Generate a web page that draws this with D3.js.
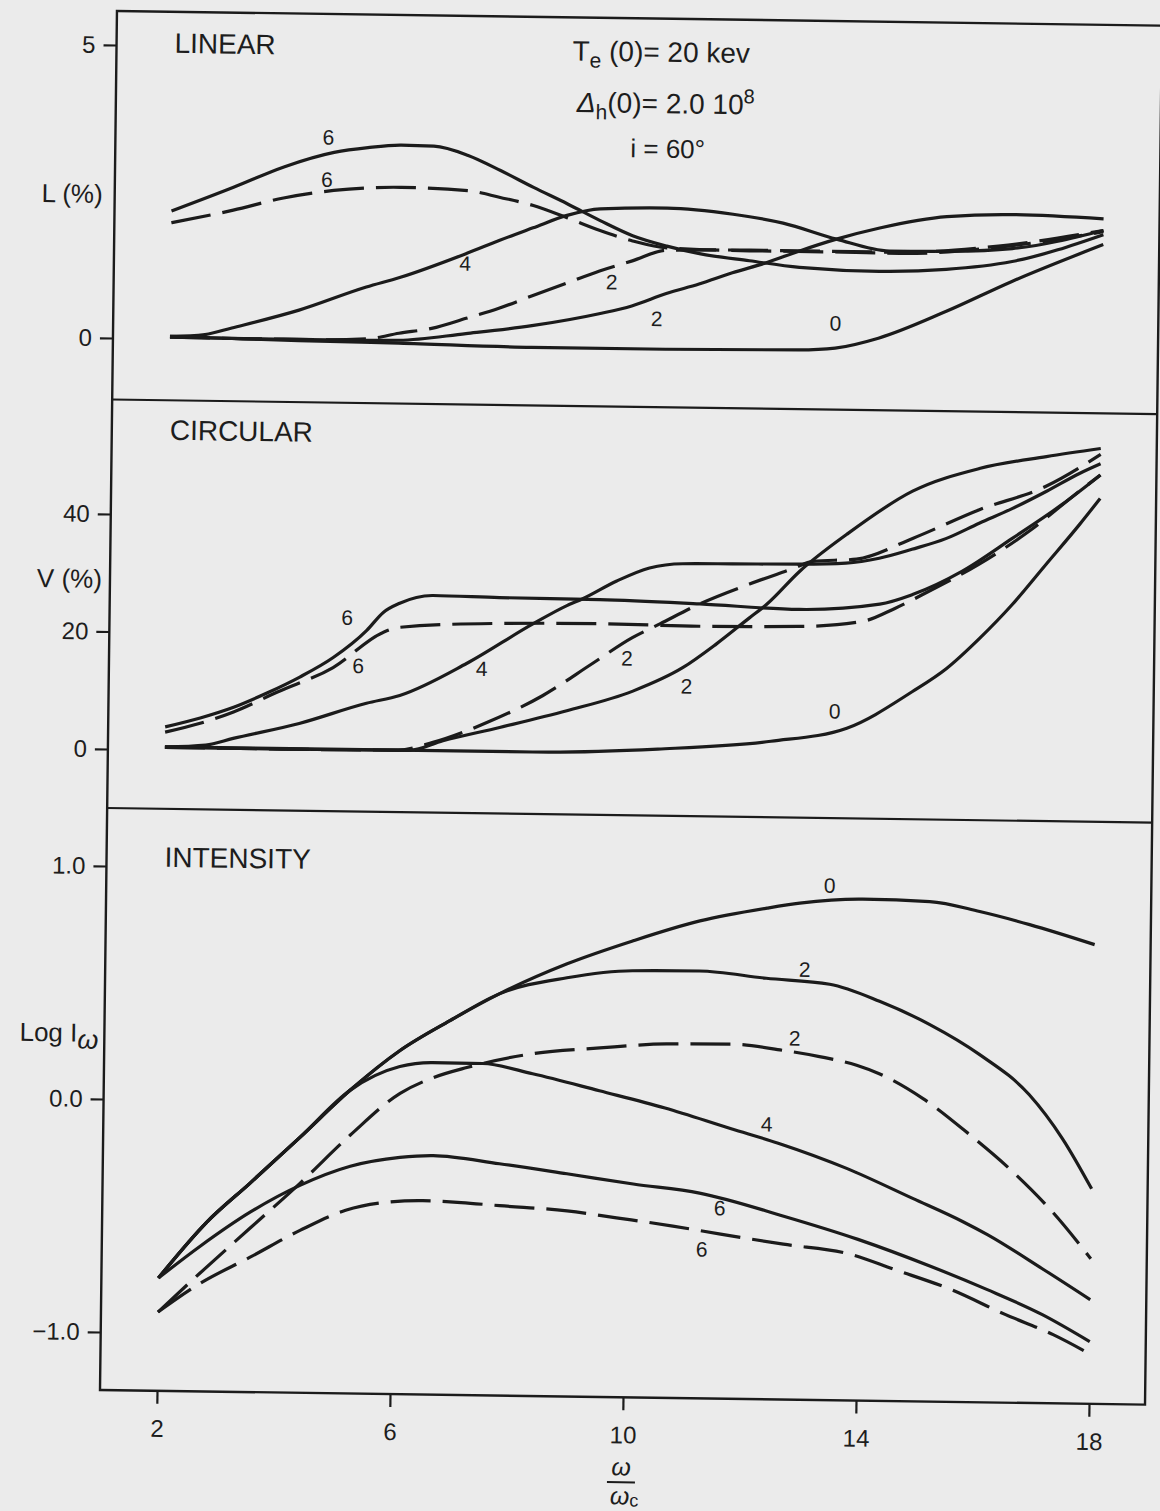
<!DOCTYPE html>
<html>
<head>
<meta charset="utf-8">
<title>Polarisation and intensity versus ω/ωc</title>
<script src="https://cdn.jsdelivr.net/npm/d3@7/dist/d3.min.js"></script>
<style>
  html, body { margin: 0; padding: 0; background: #ebebeb; }
  svg { display: block; }
  text { font-family: "Liberation Sans", Arial, Helvetica, sans-serif; fill: #1d1d1d; }
</style>
</head>
<body>
<svg id="fig" width="1160" height="1511"></svg>
<script>
// ---- axis ticks ----
const xTicks = [2, 6, 10, 14, 18];
const linearTicks = [0, 5];
const circularTicks = [0, 20, 40];
const intensityTicks = [-1, 0, 1];

// ---- LINEAR polarisation L (%) : [omega/omega_c, L] ----
const linSolid6 = [[2,2.18],[3.06,2.60],[3.92,2.96],[4.78,3.22],[5.36,3.31],[5.93,3.36],[6.49,3.35],[7.08,3.20],[7.64,2.95],[8.21,2.67],[8.79,2.40],[9.36,2.12],[9.92,1.87],[10.51,1.70],[11.07,1.58],[11.93,1.47],[12.79,1.37],[14.16,1.32],[15.31,1.37],[16.44,1.52],[18,2.0]];
const linDash6  = [[2,1.98],[3.06,2.21],[3.92,2.43],[4.78,2.57],[5.93,2.64],[7.08,2.60],[7.64,2.49],[8.21,2.36],[8.79,2.16],[9.36,1.95],[9.92,1.78],[10.51,1.67],[11.93,1.64],[13.36,1.64],[14.5,1.63],[16.2,1.76],[18,2.05]];
const linSolid4 = [[2,0.04],[2.6,0.08],[3.06,0.2],[4.21,0.52],[5.36,0.93],[5.93,1.10],[7.08,1.53],[7.64,1.76],[8.21,1.98],[8.79,2.2],[9.36,2.32],[10.51,2.35],[11.64,2.26],[12.5,2.12],[13.42,1.86],[14.33,1.67],[15.36,1.68],[16.44,1.74],[18,2.07]];
const linDash2  = [[2,0.03],[3.5,0.02],[4.5,0.02],[5.41,0.05],[5.93,0.15],[6.49,0.24],[7.08,0.42],[7.64,0.6],[8.21,0.82],[8.79,1.04],[9.36,1.26],[9.92,1.44],[10.51,1.63],[11.93,1.65],[13.36,1.65],[14.5,1.65],[16.2,1.78],[18,2.07]];
const linSolid2 = [[2,0.03],[3.5,0.02],[5,0.02],[5.93,0.03],[7.08,0.16],[8.21,0.31],[9.36,0.53],[9.92,0.67],[10.51,0.89],[11.07,1.06],[11.64,1.26],[12.22,1.44],[12.79,1.65],[13.42,1.86],[14.16,2.06],[15.31,2.27],[16.44,2.32],[18,2.27]];
const linSolid0 = [[2,0.04],[3.06,0.02],[4.21,0],[5.93,-0.02],[8.21,-0.06],[10.51,-0.06],[12.79,-0.04],[13.42,0],[14.16,0.18],[15.31,0.65],[16.44,1.18],[18,1.83]];

// ---- CIRCULAR polarisation V (%) ----
const cirSolid6 = [[2,3.9],[2.6,5.5],[3.17,7.4],[3.74,9.9],[4.3,12.7],[4.87,16.1],[5.44,20.8],[5.72,23.9],[6.0,25.5],[6.57,26.9],[7.71,26.7],[9.43,26.6],[11.15,26.1],[12.86,25.4],[14.24,26.5],[14.8,28.2],[15.65,32.3],[16.5,38.0],[17.35,43.9],[18,49.0]];
const cirDash6  = [[2,3.0],[2.6,4.6],[3.17,6.6],[3.92,10.1],[4.87,14.4],[5.72,20.5],[6.0,21.4],[7.71,22.3],[9.43,22.5],[11.15,22.3],[12.86,22.5],[13.94,23.5],[14.5,25.8],[15.08,28.8],[15.93,33.5],[16.78,39.2],[17.63,46.1],[18,49.0]];
const cirSolid4 = [[2,0.5],[2.7,0.9],[3.17,2.1],[4.3,4.8],[5.45,8.4],[6.02,9.8],[7.16,15.4],[8.29,22.3],[8.87,25.5],[9.14,26.7],[9.72,29.8],[10.28,32.1],[10.85,32.9],[11.7,33.0],[12.85,33.1],[13.65,33.4],[14.22,34.3],[14.78,35.9],[15.36,37.8],[15.93,40.5],[16.5,43.1],[17.08,46.1],[17.64,49.2],[18,50.9]];
const cirDash2  = [[2,0.4],[4,0.4],[6,0.5],[6.6,1.9],[7.52,5.4],[8.47,10.1],[9.32,15.7],[10.0,20.2],[10.47,22.6],[11.15,26.1],[12.0,29.6],[12.76,32.4],[13.08,33.6],[13.83,34.1],[14.8,37.8],[15.93,42.8],[17.06,46.9],[18,52.5]];
const cirSolid2 = [[2,0.4],[4,0.4],[6.2,0.5],[6.77,2.2],[7.74,4.6],[8.89,7.6],[10.02,11.1],[10.87,15.2],[11.44,19.3],[12.0,23.8],[12.3,26.2],[12.86,31.9],[13.66,38.3],[14.78,45.8],[15.92,49.8],[17.07,52.0],[18,53.5]];
const cirSolid0 = [[2,0.5],[6.03,0.5],[8.31,0.5],[10.46,1.3],[12.4,2.9],[13.7,5.3],[14.82,11.7],[15.4,15.7],[15.96,20.9],[16.51,26.7],[17.08,33.6],[17.65,40.5],[18,45.0]];

// ---- INTENSITY log I_omega ----
const intSolid0 = [[2,-0.765],[2.82,-0.522],[3.55,-0.353],[4.4,-0.153],[5.25,0.052],[6.1,0.226],[6.95,0.357],[7.8,0.476],[8.95,0.608],[10.07,0.71],[11.22,0.8],[12.37,0.859],[12.93,0.882],[14.01,0.903],[15.16,0.897],[16.02,0.857],[16.88,0.804],[18,0.722]];
const intSolid2 = [[2,-0.765],[2.82,-0.522],[3.55,-0.353],[4.4,-0.153],[5.25,0.052],[6.1,0.226],[6.95,0.357],[7.8,0.476],[8.95,0.548],[10.07,0.582],[11.22,0.585],[12.37,0.558],[13.46,0.536],[14.32,0.466],[15.18,0.37],[16.05,0.243],[16.91,0.074],[17.49,-0.113],[18,-0.326]];
const intDash2  = [[2,-0.911],[2.71,-0.742],[3.56,-0.546],[4.41,-0.35],[5.26,-0.141],[6.11,0.042],[6.68,0.112],[7.25,0.157],[8.38,0.22],[9.53,0.249],[10.67,0.27],[11.8,0.273],[12.66,0.25],[13.3,0.225],[13.94,0.19],[14.33,0.155],[15.08,0.052],[15.89,-0.1],[16.64,-0.257],[17.33,-0.427],[18,-0.626]];
const intSolid4 = [[2,-0.765],[2.82,-0.522],[3.55,-0.353],[4.4,-0.153],[5.25,0.052],[6.1,0.157],[6.66,0.176],[7.52,0.175],[8.38,0.134],[9.53,0.065],[10.66,-0.005],[11.8,-0.09],[12.61,-0.149],[13.79,-0.253],[14.93,-0.378],[15.79,-0.474],[16.22,-0.529],[17.17,-0.672],[18,-0.802]];
const intSolid6 = [[2,-0.765],[2.71,-0.626],[3.56,-0.477],[4.41,-0.359],[5.27,-0.274],[6.12,-0.233],[6.69,-0.223],[7.83,-0.254],[8.99,-0.293],[10.13,-0.333],[11.27,-0.368],[12.72,-0.462],[14.0,-0.557],[15.26,-0.669],[16.23,-0.765],[17.18,-0.869],[18,-0.982]];
const intDash6  = [[2,-0.911],[2.72,-0.785],[3.57,-0.67],[4.42,-0.552],[5.2,-0.463],[5.87,-0.427],[6.52,-0.417],[7.18,-0.423],[7.84,-0.434],[9.0,-0.452],[9.85,-0.479],[10.82,-0.511],[11.64,-0.543],[12.72,-0.582],[13.87,-0.621],[14.63,-0.684],[15.6,-0.766],[16.55,-0.871],[17.37,-0.954],[18,-1.034]];

// ---- curve tags: [text, omega/omega_c, value] ----
const linLabels = [["6",4.68,3.48],["6",4.66,2.76],["4",7.05,1.36],["2",9.57,1.08],["2",10.35,0.46],["0",13.42,0.43]];
const cirLabels = [["6",5.10,23.0],["6",5.30,14.8],["4",7.42,14.6],["2",9.91,16.7],["2",10.94,12.1],["0",13.49,8.2]];
const intLabels = [["0",13.44,0.961],["2",13.03,0.599],["2",12.87,0.303],["4",12.41,-0.068],["6",11.62,-0.43],["6",11.32,-0.608]];

// ---- layout ----
const frame = { left: 100, right: 1145, top: 11, bottom: 1390 };
const ink = "#1b1b1b";
const dash = "40 12";

const svg = d3.select("#fig");
svg.append("rect").attr("width", 1160).attr("height", 1511).attr("fill", "#ebebeb");

// the printed figure sits slightly skewed on the page
const g = svg.append("g").attr("transform", "matrix(1,0.014,-0.0123,1,17.1,-1.4)");

const x = d3.scaleLinear([2, 18], [157, 1089]);

const panels = [
  { title: "LINEAR", top: 11, bottom: 399.5, titleY: 52, y: d3.scaleLinear([0, 5], [338, 45]),
    ticks: linearTicks, fmt: d3.format("d"), labels: linLabels,
    curves: [[linSolid6,false],[linDash6,true],[linSolid4,false],[linDash2,true],[linSolid2,false],[linSolid0,false]] },
  { title: "CIRCULAR", top: 399.5, bottom: 808, titleY: 439, y: d3.scaleLinear([0, 40], [749, 514]),
    ticks: circularTicks, fmt: d3.format("d"), labels: cirLabels,
    curves: [[cirSolid6,false],[cirDash6,true],[cirSolid4,false],[cirDash2,true],[cirSolid2,false],[cirSolid0,false]] },
  { title: "INTENSITY", top: 808, bottom: 1390, titleY: 866, y: d3.scaleLinear([-1, 1], [1332, 866]),
    ticks: intensityTicks, fmt: d3.format(".1f"), labels: intLabels,
    curves: [[intSolid0,false],[intSolid2,false],[intDash2,true],[intSolid4,false],[intSolid6,false],[intDash6,true]] }
];

// outer frame and panel separators
g.append("rect")
  .attr("x", frame.left).attr("y", frame.top)
  .attr("width", frame.right - frame.left).attr("height", frame.bottom - frame.top)
  .attr("fill", "none").attr("stroke", ink).attr("stroke-width", 2.4);
panels.slice(1).forEach(p => {
  g.append("line").attr("x1", frame.left).attr("x2", frame.right)
    .attr("y1", p.top).attr("y2", p.top)
    .attr("stroke", ink).attr("stroke-width", 2.2);
});

panels.forEach(p => {
  // left axis ticks and numbers
  const ax = g.append("g")
    .attr("transform", `translate(${frame.left},0)`)
    .call(d3.axisLeft(p.y).tickValues(p.ticks).tickSize(13).tickPadding(8).tickFormat(p.fmt));
  ax.select(".domain").remove();
  ax.attr("color", ink).attr("font-size", 24).attr("font-family", null);
  ax.selectAll("line").attr("stroke-width", 2.2);

  // panel title
  g.append("text").attr("x", 158).attr("y", p.titleY).attr("font-size", 28).text(p.title);

  // curves
  const line = d3.line().x(d => x(d[0])).y(d => p.y(d[1])).curve(d3.curveMonotoneX);
  p.curves.forEach(([data, dashed]) => {
    g.append("path").attr("d", line(data))
      .attr("fill", "none").attr("stroke", ink).attr("stroke-width", 3.2)
      .attr("stroke-dasharray", dashed ? dash : null);
  });

  // curve tags
  g.selectAll(null).data(p.labels).join("text")
    .attr("x", d => x(d[1])).attr("y", d => p.y(d[2]))
    .attr("dy", "0.36em").attr("text-anchor", "middle")
    .attr("font-size", 21).text(d => d[0]);
});

// bottom axis
const xa = g.append("g")
  .attr("transform", `translate(0,${frame.bottom})`)
  .call(d3.axisBottom(x).tickValues(xTicks).tickSize(13).tickPadding(16));
xa.select(".domain").remove();
xa.attr("color", ink).attr("font-size", 24).attr("font-family", null);
xa.selectAll("line").attr("stroke-width", 2.2);

// y-axis titles
g.append("text").attr("x", 88).attr("y", 203).attr("text-anchor", "end").attr("font-size", 26).text("L (%)");
g.append("text").attr("x", 92).attr("y", 588).attr("text-anchor", "end").attr("font-size", 26).text("V (%)");
const logI = g.append("text").attr("x", 94).attr("y", 1042).attr("text-anchor", "end").attr("font-size", 26);
logI.append("tspan").text("Log I");
logI.append("tspan").attr("dy", 7).attr("font-size", 27).attr("font-style", "italic").text("ω");

// x-axis title: ω over ωc as a stacked fraction
g.append("text").attr("x", 622).attr("y", 1468).attr("text-anchor", "middle")
  .attr("font-size", 25).attr("font-style", "italic").text("ω");
g.append("line").attr("x1", 608).attr("x2", 636).attr("y1", 1475).attr("y2", 1475)
  .attr("stroke", ink).attr("stroke-width", 2);
const den = g.append("text").attr("x", 611).attr("y", 1497).attr("font-size", 25);
den.append("tspan").attr("font-style", "italic").text("ω");
den.append("tspan").attr("dy", 2).attr("font-size", 18).text("c");

// model parameters
const t1 = g.append("text").attr("x", 556).attr("y", 54).attr("font-size", 28);
t1.append("tspan").text("T");
t1.append("tspan").attr("dy", 7).attr("font-size", 21).text("e");
t1.append("tspan").attr("dy", -7).text(" (0)= 20 kev");

const t2 = g.append("text").attr("x", 561).attr("y", 105.5).attr("font-size", 28);
t2.append("tspan").attr("font-style", "italic").text("Δ");
t2.append("tspan").attr("dy", 7).attr("font-size", 21).text("h");
t2.append("tspan").attr("dy", -7).text("(0)= 2.0 10");
t2.append("tspan").attr("dy", -11).attr("font-size", 20).text("8");

g.append("text").attr("x", 615).attr("y", 150).attr("font-size", 26).text("i = 60°");
</script>
</body>
</html>
